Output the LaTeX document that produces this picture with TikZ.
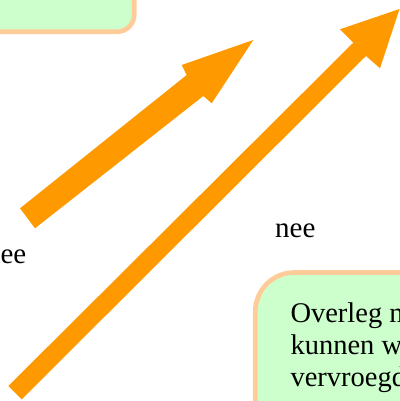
\documentclass[tikz,border=0pt]{standalone}
\usepackage{fontspec}
\setmainfont{Liberation Serif}
\definecolor{boxfill}{HTML}{CCFFCC}
\definecolor{boxline}{HTML}{FFCC99}
\definecolor{arroworange}{HTML}{FF9900}
\tikzset{
  greenbox/.style={draw=boxline, fill=boxfill, line width=4.7pt},
  lbl/.style={inner sep=0pt, font=\fontsize{29}{32}\selectfont},
  boxtext/.style={inner sep=0pt, font=\fontsize{28.5}{32}\selectfont, align=left},
  blockarrow/.style={fill=arroworange, draw=none}
}
\begin{document}
\begin{tikzpicture}[x=1pt,y=-1pt]
\useasboundingbox (0,0) rectangle (399,401);
% top-left box (partially visible)
\draw[greenbox, rounded corners=17pt] (-200,-100) rectangle (134.2,31.7);
% bottom-right box (partially visible)
\draw[greenbox, rounded corners=39pt] (255.3,272.5) rectangle (560,520);
% arrows
\fill[blockarrow] (20,208.3) -- (186.7,75) -- (181.7,65) -- (253.3,40) -- (211.7,103.3) -- (203.3,96) -- (35,228.3) -- cycle;
\fill[blockarrow] (8.3,386) -- (353.3,42.7) -- (340,29.3) -- (399.5,9) -- (380,68.3) -- (366,56) -- (21.7,399.3) -- cycle;
% labels
\node[lbl, anchor=base east] (neeL) at (26.5,263.3) {nee};
\node[lbl, anchor=base west] (neeR) at (275,237.7) {nee};
\node[boxtext, anchor=base west] (txt) at (290.3,386.7) {Overleg met\\kunnen worden\\vervroegd};
\end{tikzpicture}
\end{document}
